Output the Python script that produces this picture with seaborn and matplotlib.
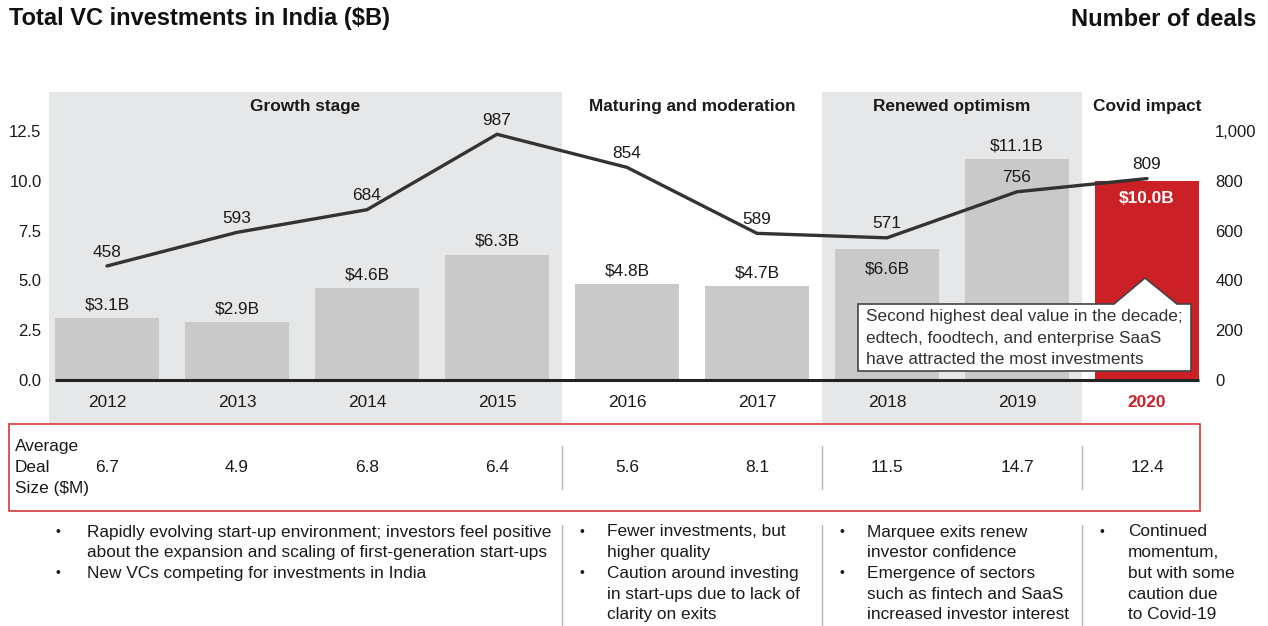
import numpy as np
import pandas as pd
import matplotlib.pyplot as plt
import matplotlib.transforms as mtransforms
from matplotlib.patches import Rectangle, Polygon
from matplotlib.lines import Line2D
import seaborn as sns

# Data
years = ['2012', '2013', '2014', '2015', '2016', '2017', '2018', '2019', '2020']
investment = [3.1, 2.9, 4.6, 6.3, 4.8, 4.7, 6.6, 11.1, 10.0]   # $B
deals = [458, 593, 684, 987, 854, 589, 571, 756, 809]
deal_size = ['6.7', '4.9', '6.8', '6.4', '5.6', '8.1', '11.5', '14.7', '12.4']
stage_names = ['Growth stage', 'Maturing and moderation', 'Renewed optimism', 'Covid impact']
stage_spans = [(-0.45, 3.5), (3.5, 5.5), (5.5, 7.5), (7.5, 8.45)]
stage_shaded = [True, False, True, False]

bullets = [
    [('•', 'Rapidly evolving start-up environment; investors feel positive'),
     ('', 'about the expansion and scaling of first-generation start-ups'),
     ('•', 'New VCs competing for investments in India')],
    [('•', 'Fewer investments, but'), ('', 'higher quality'),
     ('•', 'Caution around investing'), ('', 'in start-ups due to lack of'),
     ('', 'clarity on exits')],
    [('•', 'Marquee exits renew'), ('', 'investor confidence'),
     ('•', 'Emergence of sectors'), ('', 'such as fintech and SaaS'),
     ('', 'increased investor interest')],
    [('•', 'Continued'), ('', 'momentum,'), ('', 'but with some'),
     ('', 'caution due'), ('', 'to Covid-19')],
]
callout = ['Second highest deal value in the decade;',
           'edtech, foodtech, and enterprise SaaS',
           'have attracted the most investments']

GREY_BAR = '#c9c9c9'
SHADE = '#e6e7e9'
RED = '#cc2027'
TXT = '#1a1a1a'

W, H = 1268, 626
def fx(x):
    return x / W
def fy(y):
    return 1 - y / H

sns.set_theme(style='white')
plt.rcParams['font.family'] = ['Liberation Sans', 'DejaVu Sans']

fig = plt.figure(figsize=(12.68, 6.26), dpi=100)
ax = fig.add_axes([48.5 / W, fy(423), 1157 / W, 331 / H])

ymin, ymax = -2.16, 14.46
k = 80  # deals per $B on the twin axis

# stage backgrounds
for (a, b), shaded in zip(stage_spans, stage_shaded):
    if shaded:
        ax.axvspan(a, b, color=SHADE, lw=0, zorder=0)

df = pd.DataFrame({'year': years, 'investment': investment})
colors = [GREY_BAR] * 8 + [RED]
sns.barplot(data=df, x='year', y='investment', hue='year', palette=colors,
            legend=False, width=0.8, saturation=1, ax=ax, zorder=2,
            edgecolor='none', linewidth=0)
ax.hlines(0, -0.4, 8.4, color='#222222', lw=2.2, zorder=3)

for i, v in enumerate(investment):
    lab = f'${v:.1f}B'
    if i == len(investment) - 1:
        ax.annotate(lab, (i, v), xytext=(0, -13), textcoords='offset points',
                    ha='center', va='center', fontsize=12.4, color='white',
                    fontweight='bold', zorder=4)
    elif years[i] == '2018':
        # label sits inside the bar
        ax.annotate(lab, (i, v), xytext=(0, -14.5), textcoords='offset points',
                    ha='center', va='center', fontsize=12.4, color=TXT, zorder=4)
    else:
        ax.annotate(lab, (i, v), xytext=(0, 9.5), textcoords='offset points',
                    ha='center', va='center', fontsize=12.4, color=TXT, zorder=4)

for i, y in enumerate(years):
    red = i == len(years) - 1
    ax.text(i, -1.15, y, ha='center', va='center', fontsize=12.4,
            color=RED if red else TXT, fontweight='bold' if red else 'normal')

for name, (a, b) in zip(stage_names, stage_spans):
    xc = (a + b) / 2 if name != 'Covid impact' else 8
    ax.text(xc, 13.75, name, ha='center', va='center', fontsize=12.4,
            fontweight='bold', color=TXT)

ax.set_yticks([0, 2.5, 5, 7.5, 10, 12.5])
ax.set_yticklabels([f'{t:.1f}' for t in [0, 2.5, 5, 7.5, 10, 12.5]])
ax.set_xticks([])
ax.set_xlabel('')
ax.set_ylabel('')
ax.tick_params(axis='y', length=0, pad=5, labelsize=12, colors=TXT)
for s in ax.spines.values():
    s.set_visible(False)

# deals line on secondary axis
ax2 = ax.twinx()
sns.lineplot(x=np.arange(len(deals)), y=deals, ax=ax2, color='#333333', lw=2.4)
for i, d in enumerate(deals):
    ax2.annotate(str(d), (i, d), xytext=(0, 10), textcoords='offset points',
                 ha='center', va='center', fontsize=12.4, color=TXT)
ax2.set_ylim(ymin * k, ymax * k)
ax2.set_yticks([0, 200, 400, 600, 800, 1000])
ax2.set_yticklabels([f'{t:,}' for t in [0, 200, 400, 600, 800, 1000]])
ax2.tick_params(axis='y', length=0, pad=7, labelsize=12, colors=TXT)
ax2.set_ylabel('')
for s in ax2.spines.values():
    s.set_visible(False)

ax.set_xlim(-0.45, 8.45)
ax.set_ylim(ymin, ymax)

# titles
fig.text(fx(9), fy(19), 'Total VC investments in India ($B)', fontsize=17,
         fontweight='bold', va='center', ha='left', color='#111111')
fig.text(fx(1256), fy(19), 'Number of deals', fontsize=17,
         fontweight='bold', va='center', ha='right', color='#111111')

# callout box
pts = [(858, 304), (1114, 304), (1145, 278), (1177, 304), (1191, 304),
       (1191, 371), (858, 371)]
fig.add_artist(Polygon([(fx(x), fy(y)) for x, y in pts], closed=True,
                       transform=fig.transFigure, fc='white', ec='#444444',
                       lw=1.2, zorder=5))
for j, line in enumerate(callout):
    fig.text(fx(866), fy(317 + 21 * j), line, fontsize=12.4, color='#333333',
             va='center', ha='left', zorder=6)

# average deal size table
blend = mtransforms.blended_transform_factory(ax.transData, fig.transFigure)
fig.add_artist(Rectangle((fx(9), fy(511)), (1200 - 9) / W, (511 - 424) / H,
                         transform=fig.transFigure, fill=False,
                         ec='#d9363e', lw=1.2))
for j, line in enumerate(['Average', 'Deal', 'Size ($M)']):
    fig.text(fx(15), fy(447 + 20.5 * j), line, fontsize=12.4, color=TXT,
             va='center', ha='left')
for i, v in enumerate(deal_size):
    fig.text(i, fy(467), v, transform=blend, fontsize=12.4, color=TXT,
             va='center', ha='center')
for xs in [3.5, 5.5, 7.5]:
    fig.add_artist(Line2D([xs, xs], [fy(446), fy(489)], transform=blend,
                          color='#b5b5b5', lw=1))
    fig.add_artist(Line2D([xs, xs], [fy(525), fy(626)], transform=blend,
                          color='#b5b5b5', lw=1))

# bullet notes
cols = [(58, 87), (582, 607), (842, 867), (1102, 1128)]
for (bx, tx), lines in zip(cols, bullets):
    for j, (b, t) in enumerate(lines):
        y = fy(532 + 20.7 * j)
        if b:
            fig.text(fx(bx), y, b, fontsize=10, color=TXT, va='center', ha='center')
        fig.text(fx(tx), y, t, fontsize=12.4, color=TXT, va='center', ha='left')

fig.savefig('out.png', dpi=100)
